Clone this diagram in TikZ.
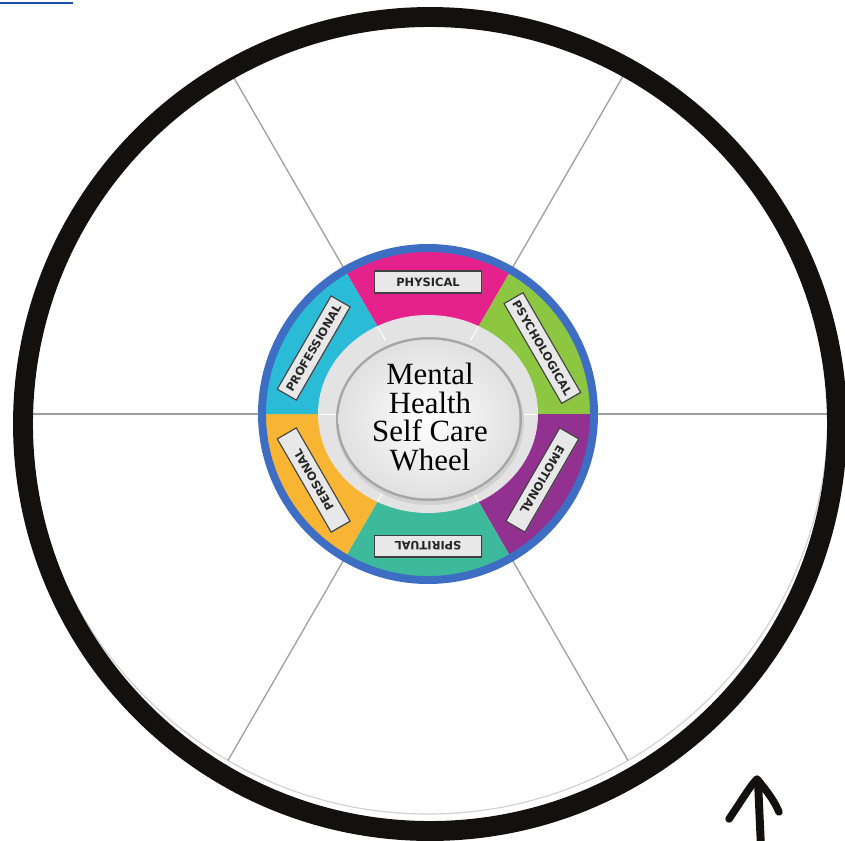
\documentclass[tikz,border=0pt]{standalone}
\usepackage{fontspec}
\newfontfamily\labelfont{DejaVu Sans}
\newfontfamily\titlefont{Liberation Serif}
\usetikzlibrary{calc,shadows}
\definecolor{cPhys}{HTML}{E5228B}
\definecolor{cPsy}{HTML}{8DC641}
\definecolor{cEmo}{HTML}{92318F}
\definecolor{cSpi}{HTML}{3DBA9B}
\definecolor{cPer}{HTML}{F8B534}
\definecolor{cPro}{HTML}{2ABBD6}
\definecolor{ringblue}{HTML}{3E6EC4}
\definecolor{linkblue}{HTML}{1A4FAA}
\definecolor{rim}{HTML}{121110}
\begin{document}
\begin{tikzpicture}[x=1bp,y=1bp,
  spoke/.style={draw=gray!75, line width=1.3},
  seglabel/.style={draw=black!75, line width=1.1, fill=black!9,
    minimum width=108, minimum height=22, inner xsep=4, inner ysep=0,
    font=\labelfont\bfseries\fontsize{11.5}{11.5}\selectfont, text=black!85,
    drop shadow={shadow xshift=1, shadow yshift=-1, opacity=0.3}},
  title/.style={font=\titlefont\fontsize{31}{29}\selectfont, align=center, text=black},
]
\useasboundingbox (0,0) rectangle (845,-841);
\coordinate (hub) at (428,-414);
\coordinate (rimc) at (430,-424);

% short link underline in the corner
\draw[linkblue, line width=2.2] (0,-3) -- (73,-3);

\begin{scope}[shift={(hub)}]
  % faint outline and the six spokes
  \draw[gray!35, line width=1.2] (0,0) circle[radius=400];
  \foreach \a in {0,60,...,300} \draw[spoke] (\a:168) -- (\a:400);

  % coloured segments
  \foreach \a/\c in {60/cPhys, 0/cPsy, -60/cEmo, -120/cSpi, 180/cPer, 120/cPro}
    \fill[\c] (0,0) -- (\a:163) arc[start angle=\a, delta angle=60, radius=163] -- cycle;
  \draw[ringblue, line width=8] (0,0) circle[radius=166];

  % grey ring with light separators
  \fill[black!11] (0,0) ellipse[x radius=110, y radius=99];
  \begin{scope}
    \clip (0,0) ellipse[x radius=110, y radius=99];
    \foreach \a in {0,60,...,300} \draw[white, line width=1] (\a:85) -- (\a:120);
  \end{scope}

  % central disc
  \fill[black!18] (2,-8) ellipse[x radius=94, y radius=83];
  \fill[black!35] (1,-5) ellipse[x radius=93, y radius=82];
  \shade[inner color=white, outer color=black!12] (1,-5) ellipse[x radius=90.5, y radius=79.5];

  % segment labels
  \node[seglabel, rotate=0]    (physical)      at (90:132)   {PHYSICAL};
  \node[seglabel, rotate=-60]  (psychological) at (30:132)   {PSYCHOLOGICAL};
  \node[seglabel, rotate=-120] (emotional)     at (-30:132)  {EMOTIONAL};
  \node[seglabel, rotate=180]  (spiritual)     at (-90:132)  {SPIRITUAL};
  \node[seglabel, rotate=120]  (personal)      at (-150:132) {PERSONAL};
  \node[seglabel, rotate=60]   (professional)  at (150:132)  {PROFESSIONAL};
\end{scope}

\node[title] (wheeltitle) at (430,-417) {Mental\\Health\\Self Care\\Wheel};

% heavy outer rim
\draw[rim, line width=20] (rimc) circle[radius=407];

% hand-drawn arrow
\draw[rim, line width=8, line cap=round] (761,-848) -- (758,-781);
\draw[rim, line width=7.5, line cap=round, line join=round]
  (729,-819) .. controls (742,-800) and (750,-786) .. (757,-779)
  .. controls (766,-790) and (774,-800) .. (779,-812);
\end{tikzpicture}
\end{document}
